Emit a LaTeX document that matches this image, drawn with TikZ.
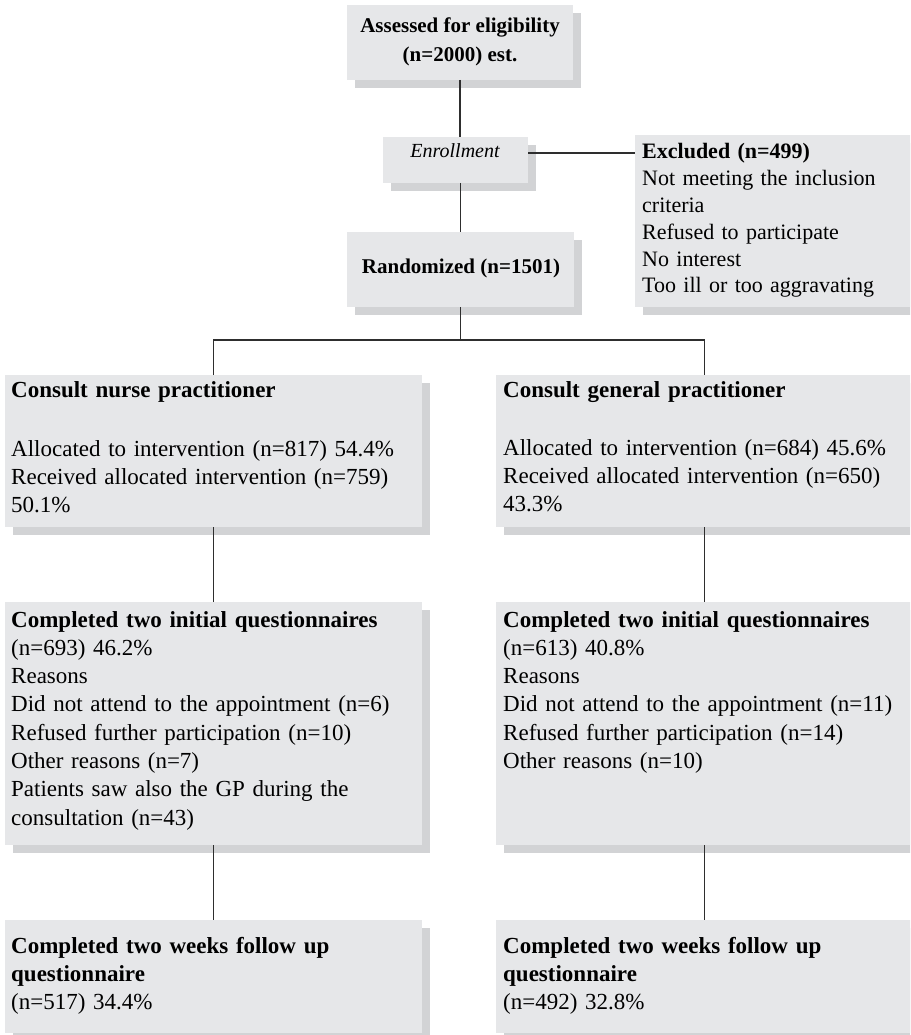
\documentclass[tikz,border=0pt]{standalone}
\usepackage{fontspec}
\setmainfont{Liberation Serif}
\usetikzlibrary{shadows}
\definecolor{boxfill}{HTML}{E6E7E9}
\definecolor{shadowfill}{HTML}{D2D3D5}
\definecolor{linecol}{HTML}{2E2E2E}
\tikzset{
  box/.style={fill=boxfill, draw=none, inner sep=0pt, outer sep=0pt, anchor=north west,
    drop shadow={shadow xshift=8pt, shadow yshift=-8pt, fill=shadowfill, opacity=1}},
  conn/.style={draw=linecol, line width=1.4pt},
  toptext/.style={anchor=base, inner sep=0pt, align=center, font=\fontsize{21}{29}\selectfont\bfseries},
  enrtext/.style={anchor=base, inner sep=0pt, font=\fontsize{20}{24}\selectfont\itshape},
  exctext/.style={anchor=base west, inner sep=0pt, text width=265pt, align=left, font=\fontsize{22}{26.8}\selectfont},
  coltext/.style={anchor=base west, inner sep=0pt, text width=405pt, align=left, font=\fontsize{23}{28.3}\selectfont},
}
\begin{document}
\begin{tikzpicture}[x=1pt,y=-1pt]
\useasboundingbox (0,0) rectangle (910,1035);
\clip (0,0) rectangle (910,1035);

% boxes
\node[box, minimum width=226pt, minimum height=75pt] (assess) at (347,5) {};
\node[box, minimum width=145pt, minimum height=46pt] (enr) at (383,137) {};
\node[box, minimum width=280pt, minimum height=172pt] (excl) at (635,135) {};
\node[box, minimum width=227pt, minimum height=75pt] (rand) at (347,232) {};
\node[box, minimum width=417pt, minimum height=152pt] (nurse) at (5,375) {};
\node[box, minimum width=417pt, minimum height=152pt] (gp) at (496,375) {};
\node[box, minimum width=417pt, minimum height=243pt] (iniL) at (5,602) {};
\node[box, minimum width=417pt, minimum height=243pt] (iniR) at (496,602) {};
\node[box, minimum width=417pt, minimum height=113pt] (fupL) at (5,920) {};
\node[box, minimum width=417pt, minimum height=113pt] (fupR) at (496,920) {};

% texts
\node[toptext] (assessT1) at (460,33) {Assessed for eligibility};
\node[toptext] (assessT2) at (460,62) {(n=2000) est.};
\node[enrtext] (enrT) at (455,158) {Enrollment};
\node[exctext] (exclT) at (642,159) {\textbf{Excluded (n=499)}\\Not meeting the inclusion\\criteria\\Refused to participate\\No interest\\Too ill or too aggravating};
\node[toptext] (randT) at (461,273) {Randomized (n=1501)};
\node[coltext] (nurseT) at (11,397) {\textbf{Consult nurse practitioner}\\[31pt]Allocated to intervention (n=817) 54.4\%\\Received allocated intervention (n=759)\\50.1\%};
\node[coltext] (gpT) at (503,397) {\textbf{Consult general practitioner}\\[30pt]Allocated to intervention (n=684) 45.6\%\\Received allocated intervention (n=650)\\43.3\%};
\node[coltext] (iniLT) at (11,627) {\textbf{Completed two initial questionnaires}\\(n=693) 46.2\%\\Reasons\\Did not attend to the appointment (n=6)\\Refused further participation (n=10)\\Other reasons (n=7)\\Patients saw also the GP during the\\consultation (n=43)};
\node[coltext] (iniRT) at (503,627) {\textbf{Completed two initial questionnaires}\\(n=613) 40.8\%\\Reasons\\Did not attend to the appointment (n=11)\\Refused further participation (n=14)\\Other reasons (n=10)};
\node[coltext] (fupLT) at (11,953) {\textbf{Completed two weeks follow up}\\\textbf{questionnaire}\\(n=517) 34.4\%};
\node[coltext] (fupRT) at (503,953) {\textbf{Completed two weeks follow up}\\\textbf{questionnaire}\\(n=492) 32.8\%};

% connectors
\coordinate (splitY) at (0,340);
\coordinate (split) at (rand.south |- splitY);
\coordinate (enrR) at ([yshift=7pt]enr.east);
\draw[conn] (assess.south) -- (assess.south |- enr.north);
\draw[conn] (rand.north |- enr.south) -- (rand.north);
\draw[conn] (enrR) -- (enrR -| excl.west);
\draw[conn] (rand.south) -- (split);
\draw[conn] (nurse.north) |- (split) -| (gp.north);
\draw[conn] (nurse.south) -- (iniL.north);
\draw[conn] (gp.south) -- (iniR.north);
\draw[conn] (iniL.south) -- (fupL.north);
\draw[conn] (iniR.south) -- (fupR.north);
\end{tikzpicture}
\end{document}
